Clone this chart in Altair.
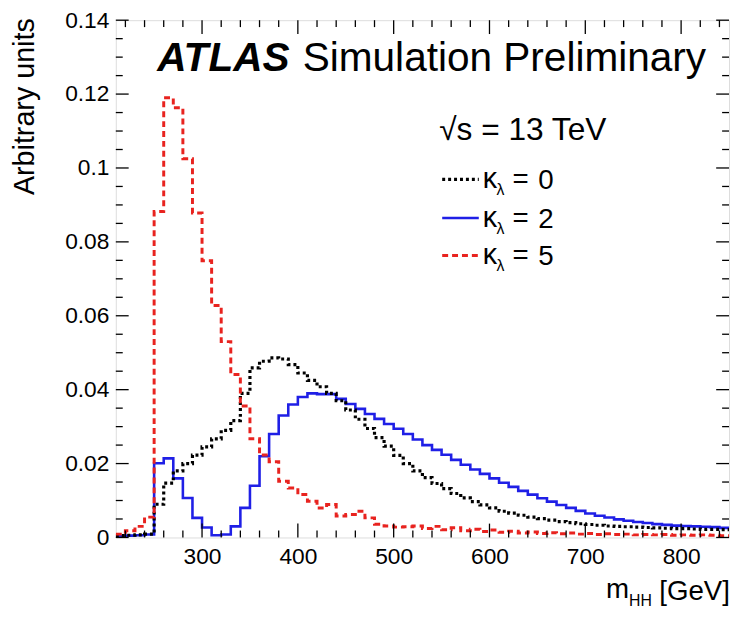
import altair as alt
import pandas as pd

W, H = 620, 523

# bin edges of the m_HH histograms (GeV)
edges = list(range(210, 860, 10))

# kappa_lambda = 0 (black dotted)
kl0 = [0.0005, 0.0006, 0.0007, 0.0009, 0.0090, 0.0147, 0.0180, 0.0200, 0.0223, 0.0245,
       0.0267, 0.0290, 0.0316, 0.0390, 0.0459, 0.0477, 0.0486, 0.0483, 0.0468, 0.0445,
       0.0425, 0.0408, 0.0390, 0.0370, 0.0345, 0.0320, 0.0295, 0.0270, 0.0247, 0.0222,
       0.0200, 0.0180, 0.0162, 0.0146, 0.0132, 0.0119, 0.0107, 0.0097, 0.0088, 0.0080,
       0.0071, 0.0066, 0.0060, 0.0055, 0.0051, 0.0047, 0.0043, 0.0040, 0.0037, 0.0035,
       0.0033, 0.0031, 0.0030, 0.0029, 0.0028, 0.0027, 0.0026, 0.0025, 0.0024, 0.0024,
       0.0023, 0.0022, 0.0022, 0.0021]

# kappa_lambda = 2 (blue solid)
kl2 = [0.0004, 0.0005, 0.0006, 0.0008, 0.0201, 0.0214, 0.0160, 0.0107, 0.0053, 0.0027,
       0.0006, 0.0008, 0.0030, 0.0080, 0.0140, 0.0220, 0.0280, 0.0330, 0.0360, 0.0380,
       0.0390, 0.0388, 0.0388, 0.0375, 0.0361, 0.0348, 0.0334, 0.0321, 0.0307, 0.0294,
       0.0280, 0.0265, 0.0250, 0.0237, 0.0224, 0.0210, 0.0197, 0.0184, 0.0172, 0.0160,
       0.0148, 0.0137, 0.0126, 0.0116, 0.0106, 0.0097, 0.0088, 0.0080, 0.0072, 0.0065,
       0.0059, 0.0054, 0.0049, 0.0045, 0.0042, 0.0039, 0.0036, 0.0034, 0.0032, 0.0031,
       0.0030, 0.0029, 0.0028, 0.0026]

# kappa_lambda = 5 (red dashed)
kl5 = [0.0009, 0.0018, 0.0030, 0.0055, 0.0882, 0.1190, 0.1163, 0.1025, 0.0878, 0.0749,
       0.0628, 0.0530, 0.0441, 0.0356, 0.0267, 0.0223, 0.0205, 0.0152, 0.0134, 0.0116,
       0.0098, 0.0080, 0.0089, 0.0058, 0.0062, 0.0071, 0.0053, 0.0036, 0.0031, 0.0028,
       0.0029, 0.0031, 0.0024, 0.0030, 0.0021, 0.0026, 0.0018, 0.0022, 0.0016, 0.0020,
       0.0014, 0.0017, 0.0012, 0.0015, 0.0011, 0.0013, 0.0010, 0.0012, 0.0009, 0.0011,
       0.0008, 0.0010, 0.0008, 0.0009, 0.0007, 0.0008, 0.0007, 0.0008, 0.0006, 0.0007,
       0.0006, 0.0007, 0.0006, 0.0005]

x_major = [300, 400, 500, 600, 700, 800]
x_minor = [220, 240, 260, 280, 320, 340, 360, 380, 420, 440, 460, 480, 520, 540, 560, 580,
           620, 640, 660, 680, 720, 740, 760, 780, 820, 840]
y_major = [0, 0.02, 0.04, 0.06, 0.08, 0.10, 0.12, 0.14]
y_minor = [0.005, 0.010, 0.015, 0.025, 0.030, 0.035, 0.045, 0.050, 0.055, 0.065, 0.070,
           0.075, 0.085, 0.090, 0.095, 0.105, 0.110, 0.115, 0.125, 0.130, 0.135]

FONT = "Liberation Sans"
xs = alt.Scale(domain=[210, 850], nice=False, zero=False)
ys = alt.Scale(domain=[0, 0.14], nice=False, zero=True)

xaxis = alt.Axis(values=x_major, title=None, grid=False, domain=False, ticks=False,
                 labelFontSize=23, labelPadding=8, labelColor="black", labelFlush=False,
                 labelFont=FONT, labelOverlap=False)
yaxis = alt.Axis(values=y_major, format="~g", title=None, grid=False, domain=False,
                 ticks=False, labelFontSize=23, labelPadding=7, labelColor="black",
                 labelFlush=False, labelFont=FONT, labelOverlap=False)


def hist(vals, color, dash, width):
    df = pd.DataFrame({"m": edges, "v": vals + [vals[-1]]})
    kw = dict(interpolate="step-after", color=color, strokeWidth=width, clip=True,
              strokeCap="butt")
    if dash:
        kw["strokeDash"] = dash
    return alt.Chart(df).mark_line(**kw).encode(
        x=alt.X("m:Q", scale=xs, axis=xaxis),
        y=alt.Y("v:Q", scale=ys, axis=yaxis),
    )


def yticks(vals, x1, x2):
    return alt.Chart(pd.DataFrame({"t": vals})).mark_rule(color="black", strokeWidth=1.3).encode(
        y=alt.Y("t:Q", scale=ys, axis=yaxis), x=alt.value(x1), x2=alt.value(x2))


def xticks(vals, y1, y2):
    return alt.Chart(pd.DataFrame({"t": vals})).mark_rule(color="black", strokeWidth=1.3).encode(
        x=alt.X("t:Q", scale=xs, axis=xaxis), y=alt.value(y1), y2=alt.value(y2))


dummy = pd.DataFrame({"a": [0]})


def label(txt, x, y, size, **kw):
    return alt.Chart(dummy).mark_text(text=txt, fontSize=size, font=FONT, color="black",
                                      **kw).encode(x=alt.value(x), y=alt.value(y))


def sample(y, color, dash, width):
    kw = dict(color=color, strokeWidth=width, strokeCap="butt")
    if dash:
        kw["strokeDash"] = dash
    return alt.Chart(dummy).mark_rule(**kw).encode(
        x=alt.value(330), x2=alt.value(367), y=alt.value(y))


BLUE = "#1f1fe6"
RED = "#e8231f"
layers = [
    hist(kl2, BLUE, None, 2.6),
    hist(kl0, "black", [3, 3], 3.2),
    hist(kl5, RED, [6, 4], 3.0),
    yticks(y_major, 0, 13), yticks(y_minor, 0, 7),
    yticks(y_major, W - 13, W), yticks(y_minor, W - 7, W),
    xticks(x_major, H, H - 14), xticks(x_minor, H, H - 7),
    xticks(x_major, 0, 14), xticks(x_minor, 0, 7),
    # titles
    label("ATLAS", 42, 51, 41, fontWeight="bold", fontStyle="italic", align="left",
          baseline="alphabetic"),
    label("Simulation Preliminary", 189, 51, 41, align="left", baseline="alphabetic"),
    label("√s = 13 TeV", 327, 121, 32, align="left", baseline="alphabetic"),
    sample(161, "black", [3, 3], 3.2),
    sample(200, BLUE, None, 2.6),
    sample(238, RED, [6, 4], 3.0),
]
for yy, val in ((161, "0"), (200, "2"), (238, "5")):
    layers.append(label("κ", 371, yy + 9, 29, align="left", baseline="alphabetic"))
    layers.append(label("λ", 385, yy + 16, 16, align="left", baseline="alphabetic"))
    layers.append(label("=", 401, yy + 9, 28, align="left", baseline="alphabetic"))
    layers.append(label(val, 427, yy + 10, 28, align="left", baseline="alphabetic"))

# axis titles
layers.append(label("Arbitrary units", -92, -2, 29, angle=270, align="right",
                    baseline="middle"))
layers.append(label("[GeV]", W + 1, 586, 28, align="right", baseline="alphabetic"))
layers.append(label("HH", W - 78, 592, 16, align="right", baseline="alphabetic"))
layers.append(label("m", W - 101, 584, 28, align="right", baseline="alphabetic"))

chart = alt.layer(*layers).properties(
    width=W, height=H,
    autosize=alt.AutoSizeParams(type="none"),
    padding={"left": 109, "top": 9, "right": 2, "bottom": 68},
).configure_view(stroke="black", strokeWidth=1.6).configure(font=FONT)

chart.save("out.html", embed_options={"renderer": "svg", "actions": False})
